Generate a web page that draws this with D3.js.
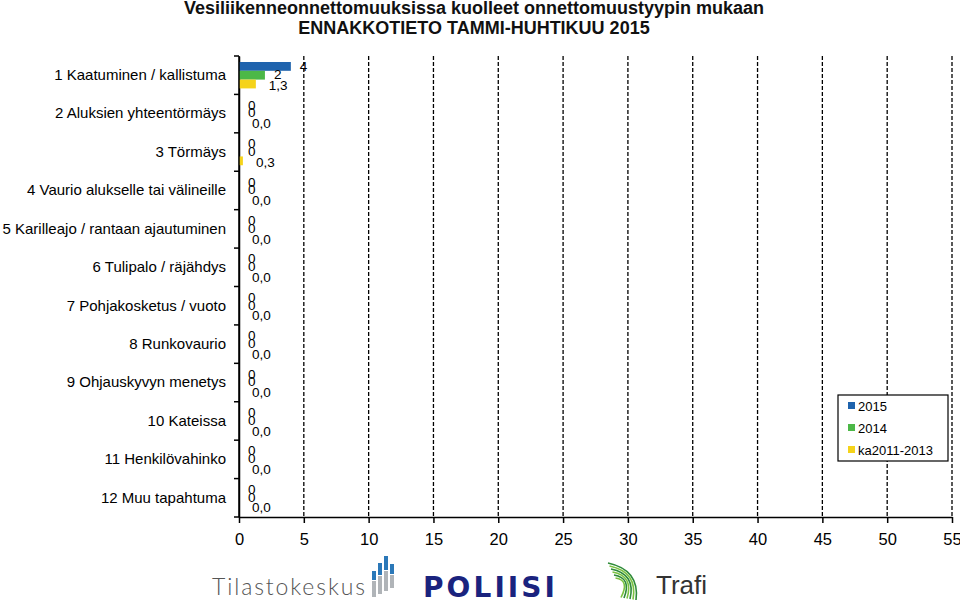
<!DOCTYPE html>
<html><head><meta charset="utf-8">
<script src="https://cdn.jsdelivr.net/npm/d3@7"></script>
<style>body{margin:0;background:#fff}svg{display:block;font-family:"Liberation Sans",Arial,sans-serif}</style>
</head><body>
<svg id="c" width="960" height="604"></svg>
<script>
const categories = ["1 Kaatuminen / kallistuma","2 Aluksien yhteentörmäys","3 Törmäys","4 Vaurio alukselle tai välineille","5 Karilleajo / rantaan ajautuminen","6 Tulipalo / räjähdys","7 Pohjakosketus / vuoto","8 Runkovaurio","9 Ohjauskyvyn menetys","10 Kateissa","11 Henkilövahinko","12 Muu tapahtuma"];
const seriesNames = ["2015","2014","ka2011-2013"];
const values2015 = [4,0,0,0,0,0,0,0,0,0,0,0];
const values2014 = [2,0,0,0,0,0,0,0,0,0,0,0];
const valuesAvg = [1.3,0,0.3,0,0,0,0,0,0,0,0,0];
const xTicks = [0,5,10,15,20,25,30,35,40,45,50,55];
const titleLines = ["Vesiliikenneonnettomuuksissa kuolleet onnettomuustyypin mukaan","ENNAKKOTIETO TAMMI-HUHTIKUU 2015"];
const colors = ["#1f63ad","#4cb847","#f5d31a"];

const svg = d3.select("#c");
const L=239, R=952, T=56, B=517;
const x = d3.scaleLinear().domain([0,55]).range([L,R]);
const y = d3.scaleBand().domain(categories).range([T,B]).padding(0);
const sub = d3.scaleBand().domain(seriesNames).range([6, y.bandwidth()-6]).padding(0);

// title
svg.selectAll("text.title").data(titleLines).join("text")
  .attr("x",474).attr("y",(d,i)=>14+i*20).attr("text-anchor","middle")
  .attr("font-weight","bold").attr("font-size",18).attr("fill","#111").text(d=>d);

// gridlines
svg.append("g").selectAll("line").data(xTicks.filter(d=>d>0)).join("line")
  .attr("x1",d=>x(d)).attr("x2",d=>x(d)).attr("y1",T).attr("y2",B)
  .attr("stroke","#000").attr("stroke-width",1.3).attr("stroke-dasharray","4,2");

// x axis
const xa = svg.append("g").attr("transform",`translate(0,${B})`)
  .call(d3.axisBottom(x).tickValues(xTicks).tickSize(6).tickSizeOuter(0).tickFormat(d3.format("d")));
xa.select(".domain").attr("stroke","#000").attr("stroke-width",1.5);
xa.selectAll(".tick line").attr("stroke","#000").attr("stroke-width",1.5);
xa.selectAll(".tick text").attr("font-size",16.5).attr("font-family","Liberation Sans, Arial, sans-serif").attr("fill","#000").attr("dy","1.15em");

// y axis
const ya = svg.append("g").attr("transform",`translate(${L},0)`)
  .call(d3.axisLeft(y).tickSize(0).tickPadding(13));
ya.select(".domain").attr("stroke","#000").attr("stroke-width",1.5);
ya.selectAll(".tick text").attr("font-size",15).attr("font-family","Liberation Sans, Arial, sans-serif").attr("fill","#000");
// boundary ticks
const bounds = d3.range(categories.length+1).map(i=>T+i*y.step());
svg.append("g").selectAll("line").data(bounds).join("line")
  .attr("x1",L-5).attr("x2",L).attr("y1",d=>d).attr("y2",d=>d).attr("stroke","#000").attr("stroke-width",1.5);

// bars
const all = [values2015, values2014, valuesAvg];
const fmt = [d3.format("d"), d3.format("d"), v=>d3.format(".1f")(v).replace(".",",")];
const lblDx = [9,9,13];
const lblDy = [0,-1,1];
all.forEach((vals,si)=>{
  const g = svg.append("g");
  g.selectAll("rect").data(vals).join("rect")
    .attr("x",x(0)).attr("y",(d,i)=>y(categories[i])+sub(seriesNames[si]))
    .attr("width",d=>x(d)-x(0)).attr("height",sub.bandwidth()).attr("fill",colors[si]);
  g.selectAll("text").data(vals).join("text")
    .attr("x",d=>x(d)+lblDx[si])
    .attr("y",(d,i)=>y(categories[i])+sub(seriesNames[si])+sub.bandwidth()/2+lblDy[si])
    .attr("dy","0.36em").attr("font-size",13.5).attr("fill","#000").text(d=>fmt[si](d));
});
// redraw y axis line on top
svg.append("line").attr("x1",L).attr("x2",L).attr("y1",T).attr("y2",B).attr("stroke","#000").attr("stroke-width",1.5);

// legend
const lg = svg.append("g");
lg.append("rect").attr("x",838).attr("y",395).attr("width",110).attr("height",66).attr("fill","#fff").attr("stroke","#000").attr("stroke-width",1.2);
seriesNames.forEach((n,i)=>{
  lg.append("rect").attr("x",848).attr("y",402+i*22).attr("width",7).attr("height",7).attr("fill",colors[i]);
  lg.append("text").attr("x",858).attr("y",406+i*22).attr("dy","0.36em").attr("font-size",13).attr("fill","#000").text(n);
});

// logos
const lo = svg.append("g");
lo.append("text").attr("x",212).attr("y",595).attr("font-size",23).attr("font-family","Lato, 'Open Sans', sans-serif").attr("font-weight",300).attr("fill","#555").attr("textLength",153).text("Tilastokeskus");
const barsIcon = [[372,571,580,597],[378,563,575,594],[384,556,570,591],[390,564,574,588]];
barsIcon.forEach(b=>{
  lo.append("rect").attr("x",b[0]).attr("y",b[1]).attr("width",4).attr("height",b[2]-b[1]).attr("fill","#2b78b8");
  lo.append("rect").attr("x",b[0]).attr("y",b[2]+1).attr("width",4).attr("height",b[3]-b[2]-1).attr("fill","#b0b4b8");
});
lo.append("text").attr("x",423).attr("y",597).attr("font-size",28).attr("font-weight","900").attr("font-family","'DejaVu Sans', sans-serif").attr("fill","#1a237e").attr("textLength",132).attr("lengthAdjust","spacing").text("POLIISI");
[0,1,2,3,4,5].forEach(i=>{
  lo.append("path").attr("d",`M${608+i*1.5},${563+i*3} Q${640-i*2},${570+i*2} ${636-i*3},${600-i*0.5}`)
    .attr("fill","none").attr("stroke",i%2?"#7cc242":"#2e8b3a").attr("stroke-width",1.6);
});
lo.append("text").attr("x",656).attr("y",594).attr("font-size",26).attr("fill","#333").text("Trafi");
</script>
</body></html>
